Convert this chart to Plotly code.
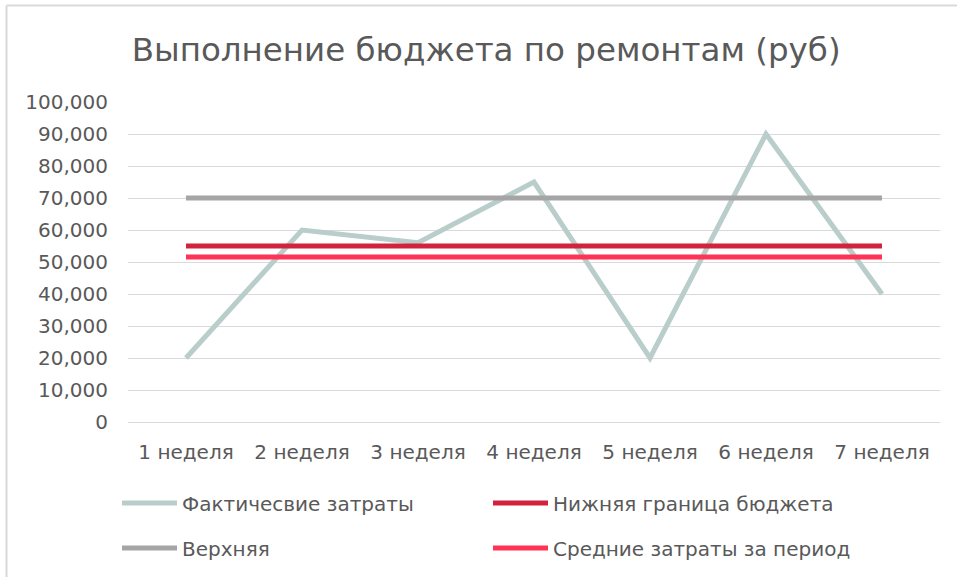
import plotly.graph_objects as go

categories = ["1 неделя", "2 неделя", "3 неделя", "4 неделя", "5 неделя", "6 неделя", "7 неделя"]
actual = [20000, 60000, 56000, 75000, 20000, 90000, 40000]
lower = [55000] * 7
upper = [70000] * 7
average = [51571] * 7
y_ticks = [0, 10000, 20000, 30000, 40000, 50000, 60000, 70000, 80000, 90000, 100000]
y_tick_labels = ["0", "10,000", "20,000", "30,000", "40,000", "50,000", "60,000", "70,000", "80,000", "90,000", "100,000"]

FONT = "DejaVu Sans, sans-serif"
W, H = 957, 577
L, R, T, B = 128, 17, 102, 155
PW, PH = W - L - R, H - T - B


def px_x(px):
    return (px - L) / PW


def px_y(py):
    return (H - B - py) / PH


fig = go.Figure()
fig.add_trace(go.Scatter(x=categories, y=actual, mode="lines", name="Фактичесвие затраты",
                         line=dict(color="#B9CDCB", width=5), legend="legend"))
fig.add_trace(go.Scatter(x=categories, y=lower, mode="lines", name="Нижняя граница бюджета",
                         line=dict(color="#D2233C", width=5), legend="legend2"))
fig.add_trace(go.Scatter(x=categories, y=upper, mode="lines", name="Верхняя",
                         line=dict(color="#A5A5A5", width=5), legend="legend3"))
fig.add_trace(go.Scatter(x=categories, y=average, mode="lines", name="Средние затраты за период",
                         line=dict(color="#FF3355", width=5), legend="legend4"))

leg_common = dict(xanchor="left", yanchor="middle", itemwidth=55,
                  font=dict(size=20, color="#595959", family=FONT), bgcolor="rgba(0,0,0,0)")

fig.update_layout(
    width=W, height=H,
    paper_bgcolor="white", plot_bgcolor="white",
    margin=dict(l=L, r=R, t=T, b=B, autoexpand=False),
    font=dict(family=FONT, color="#595959", size=20),
    title=dict(text="Выполнение бюджета по ремонтам (руб)", x=0.508, xanchor="center",
               y=1 - 50 / H, yanchor="middle", font=dict(size=32.5, color="#595959", family=FONT)),
    xaxis=dict(type="category", range=[-0.5, 6.5], showgrid=False, showline=True,
               linecolor="#D9D9D9", linewidth=1, ticks="", tickfont=dict(size=20),
               ticklabelstandoff=12),
    yaxis=dict(range=[0, 100000], tickvals=y_ticks, ticktext=y_tick_labels,
               showgrid=True, gridcolor="#D9D9D9", gridwidth=1, zeroline=False,
               ticks="", tickfont=dict(size=20), ticklabelstandoff=19),
    legend=dict(x=px_x(117), y=px_y(503), **leg_common),
    legend2=dict(x=px_x(488), y=px_y(503), **leg_common),
    legend3=dict(x=px_x(117), y=px_y(548), **leg_common),
    legend4=dict(x=px_x(488), y=px_y(548), **leg_common),
    showlegend=True,
)

fig.add_shape(type="line", xref="paper", yref="paper", x0=px_x(6.5), x1=px_x(6.5), y0=px_y(600), y1=px_y(5.5),
              line=dict(color="#D9D9D9", width=2))
fig.add_shape(type="line", xref="paper", yref="paper", x0=px_x(6.5), x1=px_x(970), y0=px_y(5.5), y1=px_y(5.5),
              line=dict(color="#D9D9D9", width=2))

fig.write_html("out.html", config={"displayModeBar": False},
               post_script="document.body.style.margin='0';")
